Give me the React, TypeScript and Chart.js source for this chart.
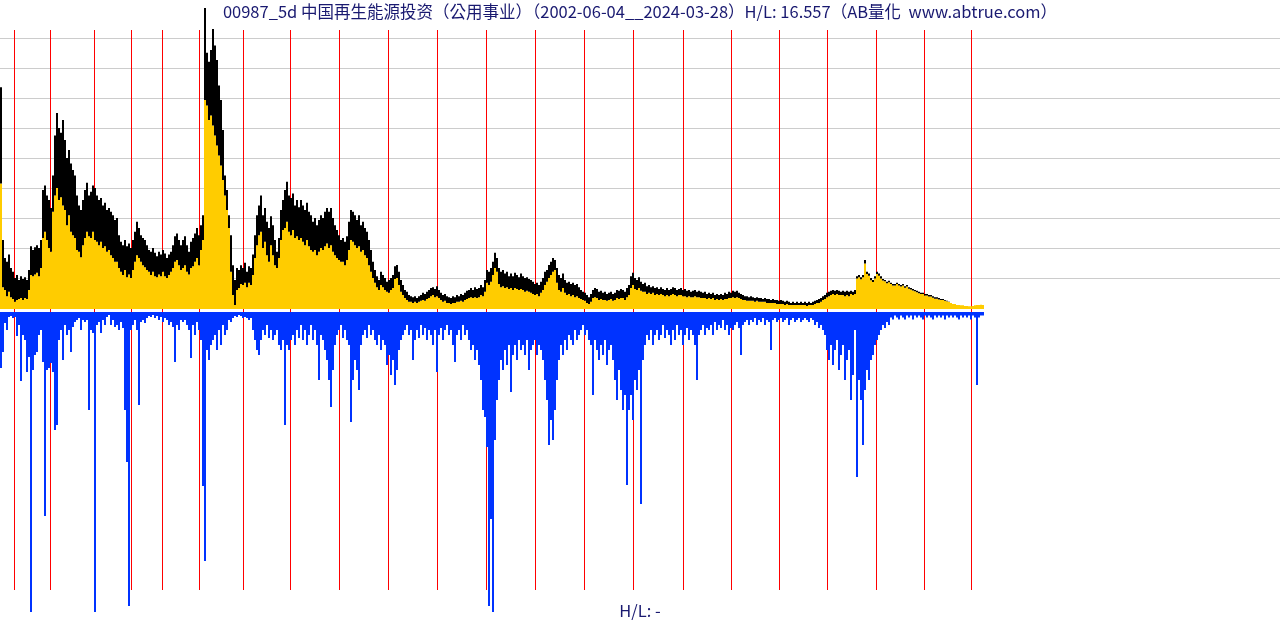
import React, { useEffect, useRef } from "react";
import { Chart, registerables } from "chart.js";

Chart.register(...registerables);

const TITLE = "00987_5d 中国再生能源投资（公用事业）（2002-06-04__2024-03-28）H/L: 16.557（AB量化  www.abtrue.com）";
const FOOTER = "H/L: -";
const PRICE_HIGH = 16.557;

// weekly (5d) highs
const highs = [
12.2,3.8,2.8,2.6,3.0,2.25,2.05,1.7,1.87,1.6,1.8,1.65,1.75,1.6,2.15,3.45,3.25,3.4,3.5,3.35,
3.8,6.55,6.8,6.25,6.0,5.55,7.35,9.55,10.78,9.95,9.7,10.4,9.3,8.3,8.75,8.0,7.65,7.35,6.25,5.7,
5.45,6.0,6.55,6.95,6.25,6.45,6.8,6.65,6.25,6.0,6.1,5.7,5.85,5.45,5.55,5.35,5.15,4.9,5.0,4.05,
3.7,3.5,3.8,3.45,3.6,3.35,3.8,4.25,4.8,4.45,4.05,3.9,3.8,3.5,3.25,3.15,3.35,3.1,2.9,3.15,
3.0,3.25,3.05,2.8,3.0,3.15,3.5,4.0,4.15,3.8,3.5,3.8,4.0,3.5,3.15,3.7,3.9,4.15,4.45,4.05,
4.6,5.15,16.557,14.1,13.6,14.25,15.4,14.5,13.7,12.3,11.5,9.85,7.35,6.55,5.15,4.05,2.4,1.6,2.25,2.15,
2.4,2.25,2.55,2.05,2.35,2.25,3.0,4.05,5.15,5.7,6.25,5.15,5.55,4.8,4.45,5.1,4.6,3.8,3.15,3.9,
5.45,6.0,6.55,7.0,6.25,6.1,6.35,5.7,6.0,5.6,6.0,5.7,5.45,5.85,5.35,5.15,4.8,5.0,4.6,4.9,
5.15,5.0,5.35,5.55,5.35,5.55,5.0,4.6,4.35,4.05,3.8,3.9,3.7,4.0,4.8,5.45,5.35,5.15,4.9,5.15,
4.6,4.8,4.45,4.25,3.8,3.25,2.6,2.15,1.8,1.6,2.05,1.87,1.7,1.5,1.6,1.7,1.87,2.35,2.42,2.05,
1.6,1.32,1.05,0.95,0.77,0.7,0.65,0.7,0.6,0.7,0.77,0.9,0.82,0.95,1.05,1.15,1.2,1.1,1.25,1.05,
0.9,0.77,0.82,0.7,0.65,0.6,0.7,0.65,0.77,0.7,0.82,0.77,0.9,1.0,1.05,1.15,1.05,1.2,1.1,1.15,
1.32,1.2,1.6,2.15,2.05,2.25,2.6,3.1,2.8,2.25,2.05,2.15,1.95,2.05,1.8,1.95,1.8,2.0,1.87,1.75,
1.95,1.8,1.7,1.75,1.65,1.6,1.5,1.37,1.45,1.32,1.5,1.7,2.05,2.15,2.42,2.6,2.8,2.7,2.25,1.87,
1.7,1.95,1.6,1.45,1.5,1.37,1.45,1.32,1.37,1.2,1.05,0.95,0.9,0.77,0.65,0.82,1.05,1.15,1.1,0.95,
1.0,0.9,0.95,0.82,0.9,0.95,0.82,0.9,1.05,1.0,1.1,1.05,0.95,1.15,1.32,1.8,2.0,1.7,1.6,1.75,
1.5,1.37,1.45,1.25,1.32,1.2,1.25,1.15,1.2,1.1,1.2,1.1,1.05,1.15,1.05,1.1,1.2,1.15,1.05,1.1,
1.15,1.05,1.1,1.0,1.05,0.95,1.0,1.05,0.95,1.0,0.95,0.9,0.95,0.82,0.9,0.82,0.9,0.77,0.82,0.77,
0.82,0.77,0.9,0.82,0.95,0.9,1.0,0.95,1.0,0.9,0.82,0.77,0.7,0.7,0.65,0.7,0.65,0.6,0.65,0.6,
0.6,0.55,0.6,0.55,0.55,0.5,0.55,0.5,0.5,0.45,0.5,0.45,0.4,0.45,0.4,0.33,0.4,0.33,0.4,0.33,
0.4,0.33,0.4,0.33,0.4,0.33,0.4,0.45,0.5,0.55,0.6,0.7,0.77,0.9,0.95,1.0,1.05,1.0,1.05,1.0,
0.95,1.0,0.95,1.0,0.95,1.0,0.95,1.05,1.8,1.87,1.75,1.87,2.7,2.05,1.95,1.7,1.6,1.8,2.05,1.95,
1.8,1.65,1.6,1.5,1.55,1.45,1.37,1.37,1.45,1.37,1.32,1.37,1.25,1.32,1.2,1.15,1.1,1.05,1.0,0.95,
0.9,0.9,0.82,0.82,0.77,0.77,0.7,0.65,0.65,0.6,0.55,0.55,0.5,0.45,0.4,0.33,0.27,0.27,0.22,0.22,
0.2,0.2,0.17,0.17,0.15,0.15,0.17,0.2,0.22,0.22,0.24,0.22
];

// weekly (5d) lows
const lows = [
6.9,1.2,1.05,0.7,0.95,0.65,0.55,0.4,0.5,0.55,0.6,0.5,0.6,0.55,1.05,1.87,1.8,1.9,2.0,1.8,
2.25,3.9,4.25,3.8,3.35,3.15,5.35,6.25,6.65,6.0,6.15,5.7,5.45,4.6,5.15,4.25,4.05,3.9,3.25,3.15,
2.85,3.5,3.9,4.25,4.0,3.9,4.25,3.8,3.7,3.5,3.7,3.35,3.45,3.15,3.25,2.95,2.8,2.6,2.6,2.25,
2.05,1.87,2.15,1.75,1.9,1.7,2.15,2.6,2.95,2.8,2.6,2.4,2.3,2.15,2.05,1.87,2.05,1.8,1.75,1.9,
1.8,2.05,1.8,1.7,1.87,2.05,2.25,2.6,2.7,2.4,2.15,2.25,2.4,2.05,1.9,2.25,2.35,2.6,2.8,2.4,
3.25,3.8,11.5,11.2,10.4,10.65,10.1,9.55,9.0,8.45,7.9,7.1,6.25,5.45,4.45,2.05,0.77,0.22,1.05,1.15,
1.37,1.32,1.45,1.2,1.45,1.32,1.87,2.8,3.5,4.05,4.25,3.35,3.7,2.95,2.6,3.5,2.95,2.4,2.25,2.8,
3.8,4.35,4.45,4.8,4.25,4.05,4.35,3.9,4.0,3.8,3.9,3.7,3.5,3.8,3.45,3.25,3.15,3.25,2.95,3.15,
3.35,3.25,3.45,3.6,3.35,3.5,3.15,2.95,2.8,2.7,2.6,2.6,2.4,2.7,3.25,3.8,3.7,3.5,3.35,3.45,
3.15,3.25,2.95,2.8,2.4,2.05,1.7,1.45,1.2,1.05,1.32,1.2,1.05,0.95,0.9,1.05,1.15,1.65,1.7,1.32,
0.95,0.77,0.6,0.5,0.4,0.4,0.33,0.4,0.33,0.4,0.45,0.5,0.45,0.55,0.6,0.7,0.77,0.65,0.7,0.6,
0.5,0.4,0.45,0.33,0.33,0.27,0.33,0.33,0.4,0.4,0.45,0.4,0.5,0.55,0.6,0.65,0.6,0.65,0.6,0.65,
0.77,0.7,0.95,1.45,1.32,1.5,1.87,2.25,2.05,1.37,1.2,1.25,1.15,1.2,1.1,1.15,1.05,1.15,1.1,1.05,
1.1,1.05,0.95,1.0,0.95,0.9,0.82,0.77,0.82,0.7,0.9,1.05,1.32,1.5,1.7,1.87,2.05,2.15,1.45,1.05,
0.95,1.15,0.9,0.77,0.82,0.7,0.77,0.65,0.7,0.6,0.55,0.5,0.45,0.33,0.27,0.4,0.6,0.65,0.6,0.5,
0.55,0.5,0.5,0.45,0.5,0.55,0.45,0.5,0.6,0.55,0.6,0.6,0.5,0.65,0.77,1.15,1.32,1.1,1.05,1.15,
1.0,0.95,0.95,0.82,0.9,0.82,0.9,0.77,0.82,0.77,0.82,0.77,0.7,0.77,0.7,0.77,0.82,0.77,0.7,0.77,
0.77,0.7,0.7,0.65,0.7,0.65,0.65,0.7,0.65,0.65,0.6,0.6,0.6,0.55,0.6,0.55,0.6,0.5,0.55,0.5,
0.55,0.5,0.55,0.55,0.6,0.6,0.65,0.6,0.65,0.6,0.55,0.5,0.5,0.45,0.45,0.45,0.45,0.4,0.45,0.4,
0.4,0.4,0.4,0.33,0.33,0.33,0.33,0.33,0.27,0.27,0.27,0.27,0.22,0.27,0.22,0.22,0.22,0.22,0.22,0.22,
0.22,0.22,0.22,0.17,0.22,0.22,0.22,0.27,0.33,0.33,0.4,0.5,0.55,0.65,0.7,0.77,0.82,0.77,0.82,0.77,
0.77,0.77,0.7,0.77,0.7,0.82,0.77,0.82,1.68,1.75,1.63,1.75,2.5,1.93,1.83,1.58,1.48,1.68,1.93,1.83,
1.68,1.57,1.52,1.42,1.47,1.37,1.29,1.29,1.37,1.29,1.24,1.29,1.17,1.24,1.12,1.07,1.02,0.97,0.92,0.87,
0.82,0.82,0.74,0.74,0.69,0.69,0.62,0.57,0.57,0.52,0.49,0.5,0.46,0.42,0.38,0.33,0.27,0.27,0.22,0.22,
0.2,0.2,0.17,0.17,0.15,0.15,0.17,0.2,0.22,0.22,0.24,0.22
];

// weekly volume (relative units)
const volumes = [
18.7,13.3,3.7,6,1.7,1.3,2,1.7,8,4.3,23,7.7,9.3,20,15,100,19.3,14.3,13.3,7.7,
6,16.7,68,19.3,18.7,17,20,39.3,37.7,9.3,6,16,4.3,7.7,6,13.3,5,3.3,2.7,2,
6,2.7,3.3,2.7,32.7,6,7,100,4.3,3.3,7,2.7,4.3,1.7,1,4.3,2.7,5,4.3,6,
3.3,5.3,32.7,50,98,6,4.3,2.7,6,31,3.3,2.7,3.7,2,1.3,1.7,1,2,1.3,2.7,
1.7,3.3,2,2.7,4.3,3.3,5,16.7,4.3,6,2.7,3.3,2.7,4.3,6,15.3,4.3,7.7,3.3,6,
9.3,58,83,12.7,16,11,9.3,7.7,12.7,6,11,4.3,7.7,6,2.7,3.3,2,1.3,1.7,1,
1.3,2,1.7,2,2.7,2,6,9.3,12.7,14.3,9.3,6,7.7,4.3,8.7,6,9.3,7.7,6,11,
12.7,9.3,37.7,11,12.7,9.3,7.7,11,6,8.7,4.3,9.3,6,11,7.7,4.3,9.3,6,11,22.7,
7.7,9.3,12.7,16,22.7,31.7,19.3,11,7.7,6,4.3,8.7,6,9.3,11,36.7,22.7,16,19.3,26,
11,7.7,6,8.7,4.3,7.7,6,9.3,11,7.7,12.7,9.3,11,17.7,14.3,21,16,24.3,19.3,12.7,
9.3,7.7,6,4.3,7.7,6,16,9.3,6,8.7,4.3,7.7,5.3,9.3,6,7.7,11,6,20,7.7,
5.3,9.3,6,4.3,7.7,6,11,16.7,7.7,6,9.3,4.3,7.7,6,9.3,12.7,11,16,12.7,17.7,
22.7,32.7,35,45,98,69,100,42.7,29.3,22.7,16,19.3,12.7,17.7,11,26.7,14.3,11,16,9.3,
12.7,11,14.3,9.3,19.3,12.7,11,9.3,14.3,11,12.7,16,22.7,29.3,44.3,36,42.7,32.7,22.7,16,
11,14.3,9.3,12.7,7.7,9.3,11,6,9.3,7.7,6,4.3,7.7,6,9.3,11,27.7,9.3,12.7,16,
11,14.3,9.3,17.7,12.7,11,16,22.7,29.3,19.3,26,32.7,27.7,57.7,32.7,27.7,36,22.7,26,19.3,
64,16,11,7.7,9.3,6,11,7.7,6,9.3,7.7,4.3,8.7,6,7.7,11,6,9.3,4.3,7.7,
6,11,7.7,5.3,9.3,6,7.7,11,22.7,7.7,6,4.3,7.7,5.3,6,4.3,7.7,3.3,6,4.3,
5.3,2.7,6,4.3,7.7,5.3,6,4.3,3.3,5.3,14.3,4.3,3.3,2.7,4.3,2.7,3.3,2,4.3,2.7,
3.3,2,4.3,2.7,3.3,12.7,2.7,2,3.3,2.7,2,3.3,2.7,2,4.3,2.7,2,3.3,2.7,2,
3.3,2.7,2,2.7,3.3,2,2.7,4.3,3.3,5.3,4.3,6,7.7,12.7,16,11,17.7,12.7,9.3,19.3,
14.3,11,22.7,16,12.7,29.3,21,6,55,22.7,29.3,44.3,26,19.3,22.7,16,14.3,11,9.3,7.7,
6,4.3,5.3,3.3,4.3,1.8,2.5,1.2,1.8,2.5,1.2,1.8,2.5,1.2,1.8,1.2,2.5,1.2,1.8,1.2,
1.8,2.5,1.2,1.8,1.2,1.8,2.5,1.2,1.8,1.2,1.8,1.2,2.5,1.2,1.8,1.2,1.8,1.2,1.8,2.5,
1.2,1.8,1.2,1.8,1.2,2.5,1.2,1.8,24.3,1.8,1.2,1.2
];

// bar index at which each calendar year begins
const years = [2003,2004,2005,2006,2007,2008,2009,2010,2011,2012,2013,2014,2015,2016,2017,2018,2019,2020,2021,2022,2023,2024];
const yearStarts = [7,25,47,65.5,81,99.5,121.5,145,169.5,194,218.5,243,267.5,292,316.5,341.5,365.5,389.5,413.5,438,462,485.5];

const W = 1280;
const H = 620;
const PX_PER_BAR = 2;
const PRICE_TOP_Y = 8;
const PRICE_BASE_Y = 309;
const VOL_BASE_Y = 312;
const VOL_PX_PER_UNIT = 3;

const pxPerPrice = (PRICE_BASE_Y - PRICE_TOP_Y) / PRICE_HIGH;

const backgroundLines = {
  id: "backgroundLines",
  beforeDatasetsDraw(chart: any) {
    const { ctx, scales } = chart;
    ctx.save();
    ctx.fillStyle = "#cccccc";
    for (let k = 0; k < 9; k++) {
      ctx.fillRect(0, 38 + 30 * k, chart.width, 1);
    }
    ctx.fillStyle = "#ff0000";
    yearStarts.forEach((v) => {
      const x = Math.round(scales.x.getPixelForValue(v - 0.5));
      ctx.fillRect(x, 30, 1, 560);
    });
    ctx.restore();
  },
};

export default function App() {
  const ref = useRef<HTMLCanvasElement | null>(null);

  useEffect(() => {
    if (!ref.current) return;
    const idx = highs.map((_, i) => i);
    const chart = new Chart(ref.current, {
      type: "bar",
      data: {
        datasets: [
          {
            label: "range",
            data: idx.map((i) => ({ x: i, y: [lows[i], highs[i]] })) as any,
            backgroundColor: "#000000",
            yAxisID: "yP",
            order: 0,
          },
          {
            label: "price",
            data: idx.map((i) => ({ x: i, y: lows[i] })),
            backgroundColor: "#ffcc00",
            yAxisID: "yP",
            order: 1,
          },
          {
            label: "volume",
            data: idx.map((i) => ({ x: i, y: volumes[i] })),
            backgroundColor: "#0033ff",
            yAxisID: "yV",
            order: 2,
          },
        ],
      },
      options: {
        animation: false,
        responsive: false,
        maintainAspectRatio: false,
        devicePixelRatio: 1,
        layout: { padding: 0 },
        datasets: {
          bar: {
            grouped: false,
            barPercentage: 1,
            categoryPercentage: 1,
            borderWidth: 0,
            inflateAmount: 0,
          } as any,
        },
        plugins: {
          legend: { display: false },
          tooltip: { enabled: false },
          title: { display: false },
        },
        scales: {
          x: {
            type: "linear",
            display: false,
            offset: false,
            min: -0.5,
            max: -0.5 + W / PX_PER_BAR,
          },
          yP: {
            type: "linear",
            display: false,
            min: -(H - PRICE_BASE_Y) / pxPerPrice,
            max: PRICE_HIGH + PRICE_TOP_Y / pxPerPrice,
          },
          yV: {
            type: "linear",
            display: false,
            reverse: true,
            min: -VOL_BASE_Y / VOL_PX_PER_UNIT,
            max: (H - VOL_BASE_Y) / VOL_PX_PER_UNIT,
          },
        },
      },
      plugins: [backgroundLines],
    });
    return () => chart.destroy();
  }, []);

  const textStyle: React.CSSProperties = {
    position: "absolute",
    left: 0,
    width: W,
    textAlign: "center",
    color: "#191970",
    fontFamily: '"Noto Sans CJK TC", "Noto Sans CJK SC", sans-serif',
    fontSize: 16.5,
    lineHeight: "20px",
    whiteSpace: "pre",
  };

  return (
    <div style={{ position: "fixed", left: 0, top: 0, width: W, height: H, background: "#ffffff", overflow: "hidden" }}>
      <canvas ref={ref} width={W} height={H} style={{ position: "absolute", left: 0, top: 0, width: W, height: H }} />
      <div style={{ ...textStyle, top: 1 }}>{TITLE}</div>
      <div style={{ ...textStyle, top: 600 }}>{FOOTER}</div>
    </div>
  );
}
